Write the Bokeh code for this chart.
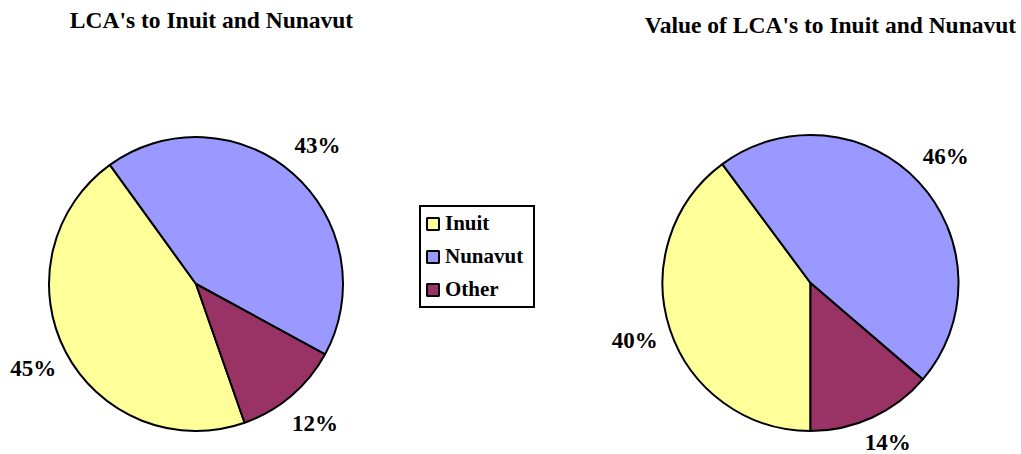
import math
from bokeh.plotting import figure
from bokeh.models import Range1d, Legend, LegendItem
from bokeh.core.properties import value
from bokeh.embed import file_html
from bokeh.resources import INLINE

# ---- data ----
categories = ["Inuit", "Nunavut", "Other"]
lca_share = [45.4, 42.9, 11.7]          # LCA's to Inuit and Nunavut (%)
lca_value_share = [39.8, 46.4, 13.7]    # Value of LCA's to Inuit and Nunavut (%)
titles = ["LCA's to Inuit and Nunavut", "Value of LCA's to Inuit and Nunavut"]
colors = ["#FFFF99", "#9999FF", "#993366"]

# ---- layout (page pixels) ----
W, H = 1021, 454
FONT = "Liberation Serif"
TXT_SHIFT = 8.5   # compensate baseline placement
LABEL_MIN_Y = 11  # keep label centres inside the chart (px from bottom)

def dy(page_y):
    return H - page_y  # page y -> data y

p = figure(width=W, height=H, output_backend="svg", toolbar_location=None,
           x_range=Range1d(0, W), y_range=Range1d(0, H), min_border=0)
p.axis.visible = False
p.grid.visible = False
p.outline_line_color = None
p.background_fill_color = "white"
p.border_fill_color = "white"

pies = [
    dict(vals=lca_share, cx=195.5, cy=283.5, r=147, start=160.7, title_x=211, title_y=27.7),
    dict(vals=lca_value_share, cx=810, cy=282.5, r=148, start=180.0, title_x=830, title_y=33.3),
]

legend_renderers = None
for k, pie in enumerate(pies):
    vals = pie["vals"]
    tot = sum(vals)
    cx, cy, r = pie["cx"], dy(pie["cy"]), pie["r"]
    th = pie["start"]
    starts, ends, lx, ly, labels = [], [], [], [], []
    for v in vals:
        span = v / tot * 360.0
        t0, t1 = th, th + span
        starts.append(math.radians(90 - t1))
        ends.append(math.radians(90 - t0))
        mid = math.radians((t0 + t1) / 2)
        dist = r * 1.25
        centre_y = max(cy + dist * math.cos(mid), LABEL_MIN_Y)
        lx.append(cx + dist * math.sin(mid))
        ly.append(centre_y - 7.8 + TXT_SHIFT)
        labels.append(f"{v / tot * 100:.0f}%")
        th = t1
    rends = []
    for i in range(3):
        rr = p.wedge(x=cx, y=cy, radius=r, start_angle=starts[i], end_angle=ends[i],
                     fill_color=colors[i], line_color="black", line_width=2)
        rends.append(rr)
    if legend_renderers is None:
        legend_renderers = rends
    p.text(x=lx, y=ly, text=labels, text_align="center", text_baseline="alphabetic",
           text_font=value(FONT), text_font_style="bold", text_font_size="23px",
           text_color="black")
    p.text(x=[pie["title_x"]], y=[dy(pie["title_y"]) + TXT_SHIFT], text=[titles[k]],
           text_align="center", text_baseline="alphabetic",
           text_font=value(FONT), text_font_style="bold", text_font_size="23.5px",
           text_color="black")

legend = Legend(
    items=[LegendItem(label=categories[i], renderers=[legend_renderers[i]]) for i in range(3)],
    location=(419, H - 308),
    border_line_color="black", border_line_width=2, border_line_alpha=1,
    background_fill_color="white", background_fill_alpha=1,
    label_text_font=FONT, label_text_font_style="bold", label_text_font_size="21px",
    label_text_color="black",
    glyph_width=15, glyph_height=15, label_height=22, label_width=84, spacing=8, padding=4,
    label_standoff=5, margin=0,
)
p.add_layout(legend, "center")

open("out.html", "w").write(file_html(p, INLINE))
